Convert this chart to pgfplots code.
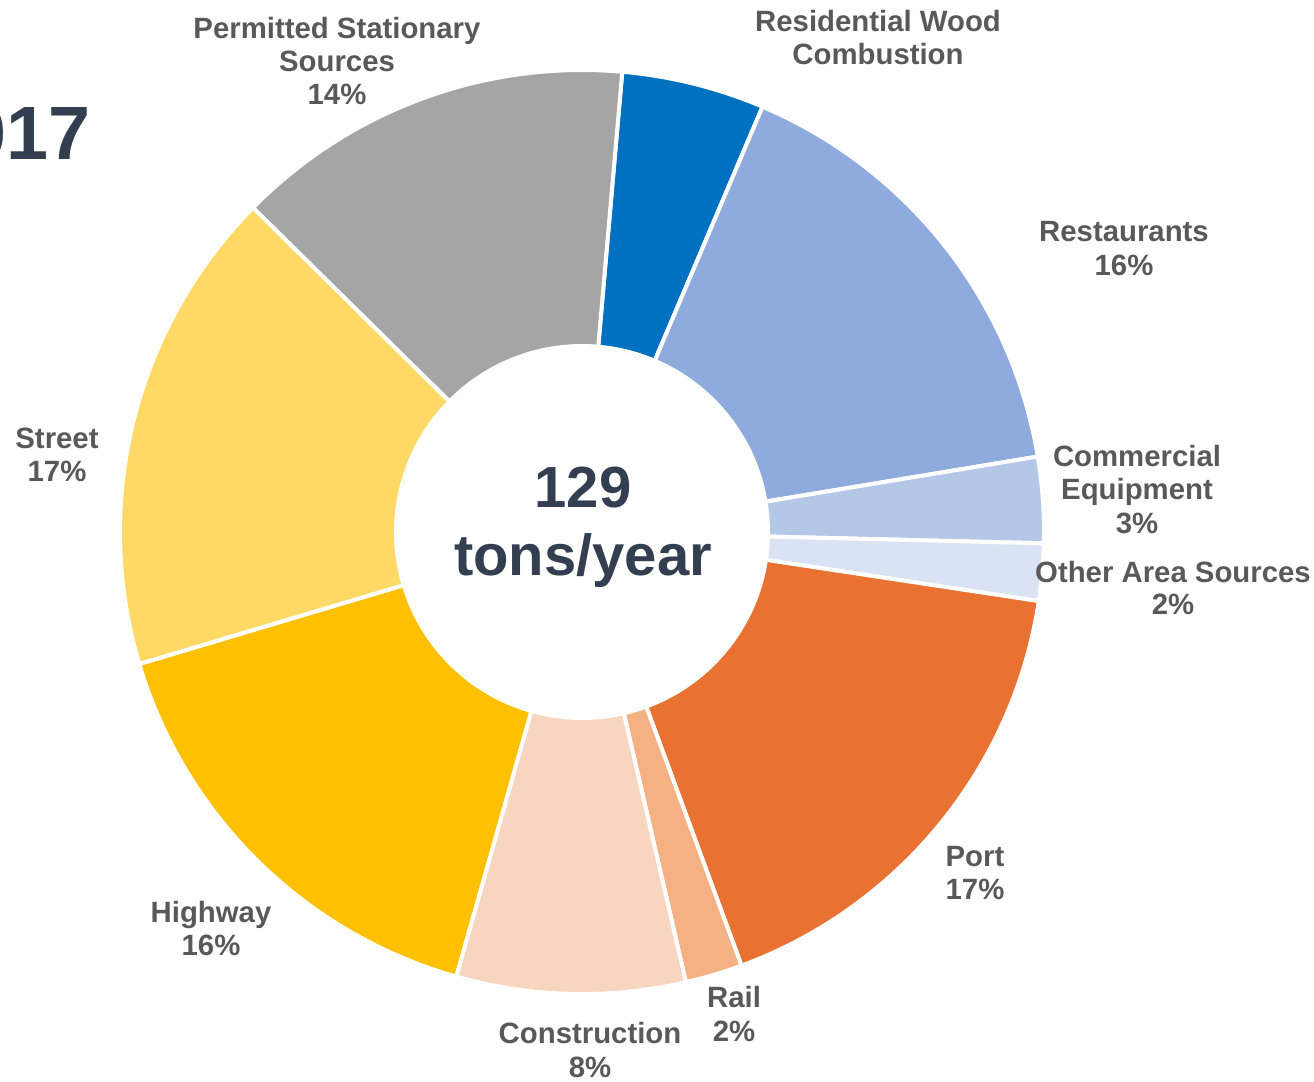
\documentclass[border=0pt]{standalone}
\usepackage{pgfplots}
\pgfplotsset{compat=1.18}
\usepackage{fontspec}
\setmainfont{Liberation Sans}
\definecolor{cRes}{HTML}{0070C0}
\definecolor{cRest}{HTML}{8FAADC}
\definecolor{cCom}{HTML}{B4C7E7}
\definecolor{cOth}{HTML}{DAE3F3}
\definecolor{cPort}{HTML}{E97132}
\definecolor{cRail}{HTML}{F4B183}
\definecolor{cCon}{HTML}{F8D5BE}
\definecolor{cHwy}{HTML}{FFC000}
\definecolor{cStr}{HTML}{FFD966}
\definecolor{cPer}{HTML}{A5A5A5}
\definecolor{lblgray}{HTML}{595959}
\definecolor{navy}{HTML}{333F50}
% label line: x (px), baseline y (px from top), text
\newcommand{\lbl}[3]{\node[anchor=base, inner sep=0pt, text=lblgray, font=\bfseries\fontsize{8.35}{9.4}\selectfont] at (axis cs:#1,{1081-#2}) {#3};}
\begin{document}
\begin{tikzpicture}
\begin{axis}[
  width=131.4mm, height=108.1mm, scale only axis,
  xmin=0, xmax=1314, ymin=0, ymax=1081,
  hide axis, clip=false]
\addplot[draw=none] coordinates {(0,0) (1314,1081)};
\pgfplotsextra{
  \def\cx{582}\def\cy{549}\def\R{462}\def\r{186}
  \gdef\acc{5}
  \foreach \v/\c in {5/cRes,16/cRest,3/cCom,2/cOth,17/cPort,2/cRail,8/cCon,16/cHwy,17/cStr,14/cPer}{
    \pgfmathsetmacro\a{\acc}
    \pgfmathsetmacro\b{\acc+3.6*\v}
    \pgfmathsetmacro\xo{\cx+\R*sin(\a)}
    \pgfmathsetmacro\yo{\cy+\R*cos(\a)}
    \pgfmathsetmacro\xi{\cx+\r*sin(\b)}
    \pgfmathsetmacro\yi{\cy+\r*cos(\b)}
    \pgfmathsetmacro\sa{90-\a}
    \pgfmathsetmacro\sb{90-\b}
    \filldraw[fill=\c, draw=white, line width=0.4mm, line join=round]
      (axis cs:\xo,\yo) arc[start angle=\sa, end angle=\sb, radius=46.2mm]
      -- (axis cs:\xi,\yi) arc[start angle=\sb, end angle=\sa, radius=18.6mm] -- cycle;
    \xdef\acc{\b}
  }
}
\lbl{337}{38}{Permitted Stationary}
\lbl{337}{71}{Sources}
\lbl{337}{104}{14\%}
\lbl{878}{31}{Residential Wood}
\lbl{878}{64}{Combustion}
\lbl{1124}{241}{Restaurants}
\lbl{1124}{275}{16\%}
\lbl{1137}{466}{Commercial}
\lbl{1137}{499}{Equipment}
\lbl{1137}{533}{3\%}
\lbl{1173}{582}{Other Area Sources}
\lbl{1173}{614}{2\%}
\lbl{975}{866}{Port}
\lbl{975}{899}{17\%}
\lbl{734}{1007}{Rail}
\lbl{734}{1041}{2\%}
\lbl{590}{1043}{Construction}
\lbl{590}{1077}{8\%}
\lbl{211}{922}{Highway}
\lbl{211}{955}{16\%}
\lbl{57}{448}{Street}
\lbl{57}{481}{17\%}
\node[anchor=base, inner sep=0pt, text=navy, font=\bfseries\fontsize{16.5}{19}\selectfont] at (axis cs:583,{1081-507}) {129};
\node[anchor=base, inner sep=0pt, text=navy, font=\bfseries\fontsize{16.5}{19}\selectfont] at (axis cs:583,{1081-575}) {tons/year};
\node[anchor=base east, inner sep=0pt, text=navy, font=\bfseries\fontsize{21.5}{24}\selectfont] at (axis cs:91,{1081-159}) {2017};
\end{axis}
\pgfresetboundingbox
\useasboundingbox (current axis.south west) rectangle (current axis.north east);
\end{tikzpicture}
\end{document}
